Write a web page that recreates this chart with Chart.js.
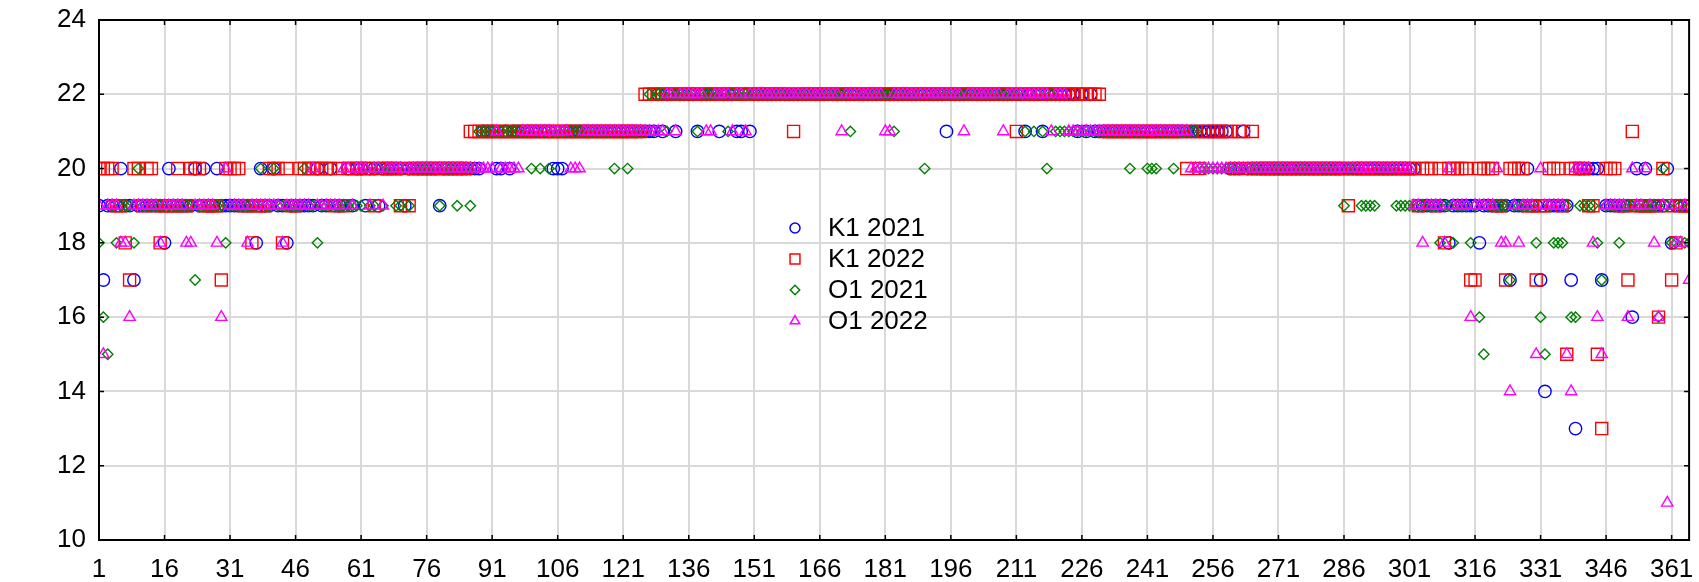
<!DOCTYPE html>
<html>
<head>
<meta charset="utf-8">
<title>K1 / O1 2021-2022</title>
<script src="https://cdn.jsdelivr.net/npm/chart.js@4.4.0/dist/chart.umd.min.js"></script>
<style>
  html, body { margin: 0; padding: 0; background: #fff; }
  #wrap { width: 1699px; height: 582px; }
</style>
</head>
<body>
<div id="wrap"><canvas id="tempChart" width="1699" height="582"></canvas></div>
<script>
// day of year, 1..365
var days = [];
for (var d = 1; d <= 365; d++) days.push(d);

var xTicks = [1, 16, 31, 46, 61, 76, 91, 106, 121, 136, 151, 166, 181, 196, 211, 226, 241, 256, 271, 286, 301, 316, 331, 346, 361];
var yTicks = [10, 12, 14, 16, 18, 20, 22, 24];

var seriesNames = ["K1 2021", "K1 2022", "O1 2021", "O1 2022"];

// one value per day, 15 days per line
var k1_2021 = [
  19,17,19,19,19,20,19,19,17,19,19,19,19,19,19,
  18,20,19,19,19,19,19,20,19,20,19,19,20,19,19,
  19,19,19,19,19,19,18,20,19,19,20,19,19,18,19,
  19,19,19,19,19,20,19,19,20,19,19,19,20,19,20,
  20,19,20,20,19,20,20,20,20,20,19,20,20,20,20,
  20,20,20,19,20,20,20,20,20,20,20,20,20,21,21,
  21,20,20,21,20,21,21,21,21,21,21,21,21,21,20,
  20,20,21,21,21,21,21,21,21,21,21,21,21,21,21,
  21,21,21,21,21,21,21,21,22,21,22,22,21,22,22,
  22,22,21,22,22,22,22,21,22,22,22,21,21,22,21,
  22,22,22,22,22,22,22,22,22,22,22,22,22,22,22,
  22,22,22,22,22,22,22,22,22,22,22,22,22,22,22,
  22,22,22,22,22,22,22,22,22,22,22,22,22,22,21,
  22,22,22,22,22,22,22,22,22,22,22,22,22,22,22,
  22,22,21,22,22,22,21,22,22,22,22,22,22,22,21,
  22,21,22,21,21,21,21,21,21,21,21,21,21,21,21,
  21,21,21,21,21,21,21,21,21,21,21,21,21,21,21,
  21,21,21,21,20,20,20,21,20,20,20,20,20,20,20,
  20,20,20,20,20,20,20,20,20,20,20,20,20,20,20,
  20,20,20,20,20,20,20,20,20,20,20,20,20,20,20,
  20,20,19,19,19,19,19,19,19,18,19,19,19,19,19,
  19,18,19,19,19,19,19,19,17,19,19,19,20,19,19,
  17,14,19,19,19,19,19,17,13,20,20,20,20,20,17,
  19,19,19,19,19,19,16,20,19,20,19,19,19,19,20,
  18,19,19,19,19
];

var k1_2022 = [
  20,20,20,20,19,19,18,17,20,20,19,20,20,19,18,
  19,19,19,20,19,19,20,20,20,19,19,19,19,17,20,
  20,20,20,19,19,18,19,19,19,20,20,20,18,20,19,
  19,20,20,20,20,20,20,20,20,19,20,19,20,20,20,
  20,20,20,19,20,20,20,20,20,19,20,19,20,20,20,
  20,20,20,20,20,20,20,20,20,20,21,21,21,21,21,
  21,21,21,21,21,21,21,21,21,21,21,21,21,21,21,
  21,21,21,21,21,21,21,21,21,21,21,21,21,21,21,
  21,21,21,21,21,22,22,22,22,22,22,22,22,22,22,
  22,22,22,22,22,22,22,22,22,22,22,22,22,22,22,
  22,22,22,22,22,22,22,22,22,21,22,22,22,22,22,
  22,22,22,22,22,22,22,22,22,22,22,22,22,22,22,
  22,22,22,22,22,22,22,22,22,22,22,22,22,22,22,
  22,22,22,22,22,22,22,22,22,22,22,22,22,22,22,
  21,22,22,22,22,22,22,22,22,22,22,22,22,22,22,
  22,22,22,22,22,21,21,21,21,21,21,21,21,21,21,
  21,21,21,21,21,21,21,21,21,20,21,21,20,21,21,
  21,21,21,21,21,20,21,21,20,21,20,20,20,20,20,
  20,20,20,20,20,20,20,20,20,20,20,20,20,20,20,
  20,19,20,20,20,20,20,20,20,20,20,20,20,20,20,
  20,20,19,20,20,20,19,20,18,20,20,20,20,20,17,
  17,20,20,20,20,19,19,17,20,20,20,20,19,19,17,
  19,19,20,20,20,19,15,20,20,20,20,19,19,15,13,
  20,20,20,19,19,17,21,19,19,19,19,19,16,20,19,
  17,18,19,19,19
];

var o1_2021 = [
  18,16,15,19,18,19,19,19,18,20,19,19,19,19,19,
  19,19,19,19,19,19,19,17,19,19,19,19,19,19,18,
  19,19,19,19,19,19,19,20,19,19,20,19,19,19,19,
  19,19,20,19,19,18,19,19,19,19,19,19,19,19,19,
  19,20,19,19,20,19,20,20,19,19,20,19,20,20,20,
  20,20,20,19,20,20,20,19,20,20,19,20,21,21,21,
  21,21,21,21,21,21,21,21,21,20,21,20,21,20,21,
  21,21,21,21,21,21,21,21,21,21,21,21,21,20,21,
  21,20,21,21,21,21,22,21,22,22,21,22,22,22,22,
  22,22,21,22,22,22,22,22,22,21,22,22,22,22,22,
  22,22,22,22,22,22,22,22,22,22,22,22,22,22,22,
  22,22,22,22,22,22,22,21,22,22,22,22,22,22,22,
  22,22,21,22,22,22,22,22,22,20,22,22,22,22,22,
  22,22,22,22,22,22,22,22,22,22,22,22,22,22,22,
  22,22,21,22,21,22,21,20,22,21,21,21,21,21,21,
  21,21,21,21,21,21,21,21,21,21,21,20,21,21,21,
  20,20,20,21,21,21,20,21,21,21,21,21,20,20,20,
  20,20,20,20,20,20,20,20,20,20,20,20,20,20,20,
  20,20,20,20,20,20,20,20,20,20,20,20,20,20,20,
  19,20,20,20,19,19,19,19,20,20,20,20,19,19,19,
  19,19,19,19,19,19,19,18,19,19,18,19,19,19,18,
  19,16,15,19,19,19,19,19,17,19,19,19,19,19,18,
  16,15,19,18,18,18,19,16,16,19,19,19,19,18,17,
  19,19,19,18,19,19,19,19,19,19,19,19,16,20,19,
  18,18,19,18,18
];

var o1_2022 = [
  19,15,19,19,19,18,18,16,19,19,19,19,19,19,18,
  19,19,19,19,19,18,18,19,19,19,19,19,18,16,20,
  19,19,19,19,18,19,19,19,19,19,19,19,18,19,19,
  19,19,19,19,20,19,19,19,19,19,19,20,20,19,20,
  20,20,19,20,20,19,20,20,20,20,20,20,20,20,20,
  20,20,20,20,20,20,20,20,20,20,20,20,20,20,20,
  20,21,20,20,20,20,20,21,21,21,21,21,21,21,21,
  21,21,21,20,20,20,21,21,21,21,21,21,21,21,21,
  21,21,21,21,21,21,21,21,21,21,22,22,21,22,22,
  22,22,22,22,21,21,22,22,22,22,21,22,22,21,22,
  22,22,22,22,22,22,22,22,22,22,22,22,22,22,22,
  22,22,22,22,22,21,22,22,22,22,22,22,22,22,22,
  21,21,22,22,22,22,22,22,22,22,22,22,22,22,22,
  22,22,22,21,22,22,22,22,22,22,22,22,21,22,22,
  22,22,22,22,22,22,22,22,21,22,22,22,21,21,21,
  21,21,21,21,21,21,21,21,21,21,21,21,21,21,21,
  21,21,21,21,21,21,21,21,21,21,20,20,20,20,20,
  20,20,20,20,20,20,20,20,20,20,20,20,20,20,20,
  20,20,20,20,20,20,20,20,20,20,20,20,20,20,20,
  20,20,20,20,20,20,20,20,20,20,20,20,20,20,20,
  20,19,19,18,19,19,19,19,18,20,19,19,19,19,16,
  19,19,19,19,19,20,18,18,14,19,18,19,19,19,15,
  20,19,19,19,19,19,15,14,20,20,20,20,18,16,15,
  19,19,19,19,19,16,20,19,19,20,19,18,16,19,11,
  19,18,18,19,17
];

var seriesValues = [k1_2021, k1_2022, o1_2021, o1_2022];
var seriesColors = ["#0000ff", "#ff0000", "#008000", "#ff00ff"];
var seriesShapes = ["circle", "rect", "rectRot", "triangle"];
var markerRadius = [6.2, 8.5, 5.2, 6.5];
var legendRadius = [5, 7, 4.7, 5.5];
// later series are painted over earlier ones
var drawOrder = [3, 2, 1, 0];

var fontFamily = "'Liberation Sans', Arial, Helvetica, sans-serif";

function toPoints(values) {
  return values.map(function(v, i) { return { x: days[i], y: v }; });
}

var datasets = seriesNames.map(function(name, i) {
  return {
    label: name,
    data: toPoints(seriesValues[i]),
    pointStyle: seriesShapes[i],
    pointRadius: markerRadius[i],
    pointBorderColor: seriesColors[i],
    pointBackgroundColor: "rgba(0,0,0,0)",
    pointBorderWidth: 1.4,
    borderColor: seriesColors[i],
    showLine: false,
    order: drawOrder[i]
  };
});

// box round the plot with short inward ticks on all four sides
var frameTicks = {
  id: "frameTicks",
  afterDatasetsDraw: function(chart) {
    var ctx = chart.ctx, a = chart.chartArea;
    var xs = chart.scales.x, ys = chart.scales.y;
    var len = 5;
    ctx.save();
    ctx.strokeStyle = "#000";
    ctx.lineWidth = 1.5;
    ctx.beginPath();
    xs.ticks.forEach(function(t) {
      var px = xs.getPixelForValue(t.value);
      ctx.moveTo(px, a.bottom); ctx.lineTo(px, a.bottom - len);
      ctx.moveTo(px, a.top); ctx.lineTo(px, a.top + len);
    });
    ys.ticks.forEach(function(t) {
      var py = ys.getPixelForValue(t.value);
      ctx.moveTo(a.left, py); ctx.lineTo(a.left + len, py);
      ctx.moveTo(a.right, py); ctx.lineTo(a.right - len, py);
    });
    ctx.stroke();
    ctx.lineWidth = 2;
    ctx.strokeRect(a.left, a.top, a.right - a.left, a.bottom - a.top);
    ctx.restore();
  }
};

// legend floating in the middle of the plot
var floatLegend = {
  id: "floatLegend",
  afterDraw: function(chart) {
    var ctx = chart.ctx;
    var markX = 795, textX = 828, rowY = 228, rowGap = 31;
    ctx.save();
    ctx.font = "26px " + fontFamily;
    ctx.textBaseline = "middle";
    ctx.textAlign = "left";
    seriesNames.forEach(function(name, i) {
      var y = rowY + i * rowGap;
      ctx.strokeStyle = seriesColors[i];
      ctx.fillStyle = "rgba(0,0,0,0)";
      ctx.lineWidth = 1.5;
      Chart.helpers.drawPoint(ctx, {
        pointStyle: seriesShapes[i],
        radius: legendRadius[i],
        rotation: 0,
        borderWidth: 1.5
      }, markX, y);
      ctx.fillStyle = "#000";
      ctx.fillText(name, textX, y + 1);
    });
    ctx.restore();
  }
};

var chart = new Chart(document.getElementById("tempChart"), {
  type: "scatter",
  data: { datasets: datasets },
  options: {
    responsive: false,
    animation: false,
    layout: { padding: { top: 20, right: 4, left: 0, bottom: 0 } },
    plugins: {
      legend: { display: false },
      tooltip: { enabled: false }
    },
    scales: {
      x: {
        type: "linear",
        min: 1,
        max: 365,
        afterBuildTicks: function(scale) {
          scale.ticks = xTicks.map(function(v) { return { value: v }; });
        },
        afterFit: function(scale) {
          scale.height = 42;
          scale.paddingLeft = 0;
          scale.paddingRight = 0;
        },
        grid: { color: "#d9d9d9", lineWidth: 2, drawTicks: false },
        border: { display: false },
        ticks: {
          color: "#000",
          padding: 14,
          maxRotation: 0,
          autoSkip: false,
          font: { family: fontFamily, size: 26 }
        }
      },
      y: {
        min: 10,
        max: 24,
        afterBuildTicks: function(scale) {
          scale.ticks = yTicks.map(function(v) { return { value: v }; });
        },
        afterFit: function(scale) {
          scale.width = 99;
          scale.paddingTop = 0;
          scale.paddingBottom = 0;
        },
        grid: { color: "#d9d9d9", lineWidth: 2, drawTicks: false },
        border: { display: false },
        ticks: {
          color: "#000",
          padding: 13,
          font: { family: fontFamily, size: 26 }
        }
      }
    }
  },
  plugins: [frameTicks, floatLegend]
});
</script>
</body>
</html>
